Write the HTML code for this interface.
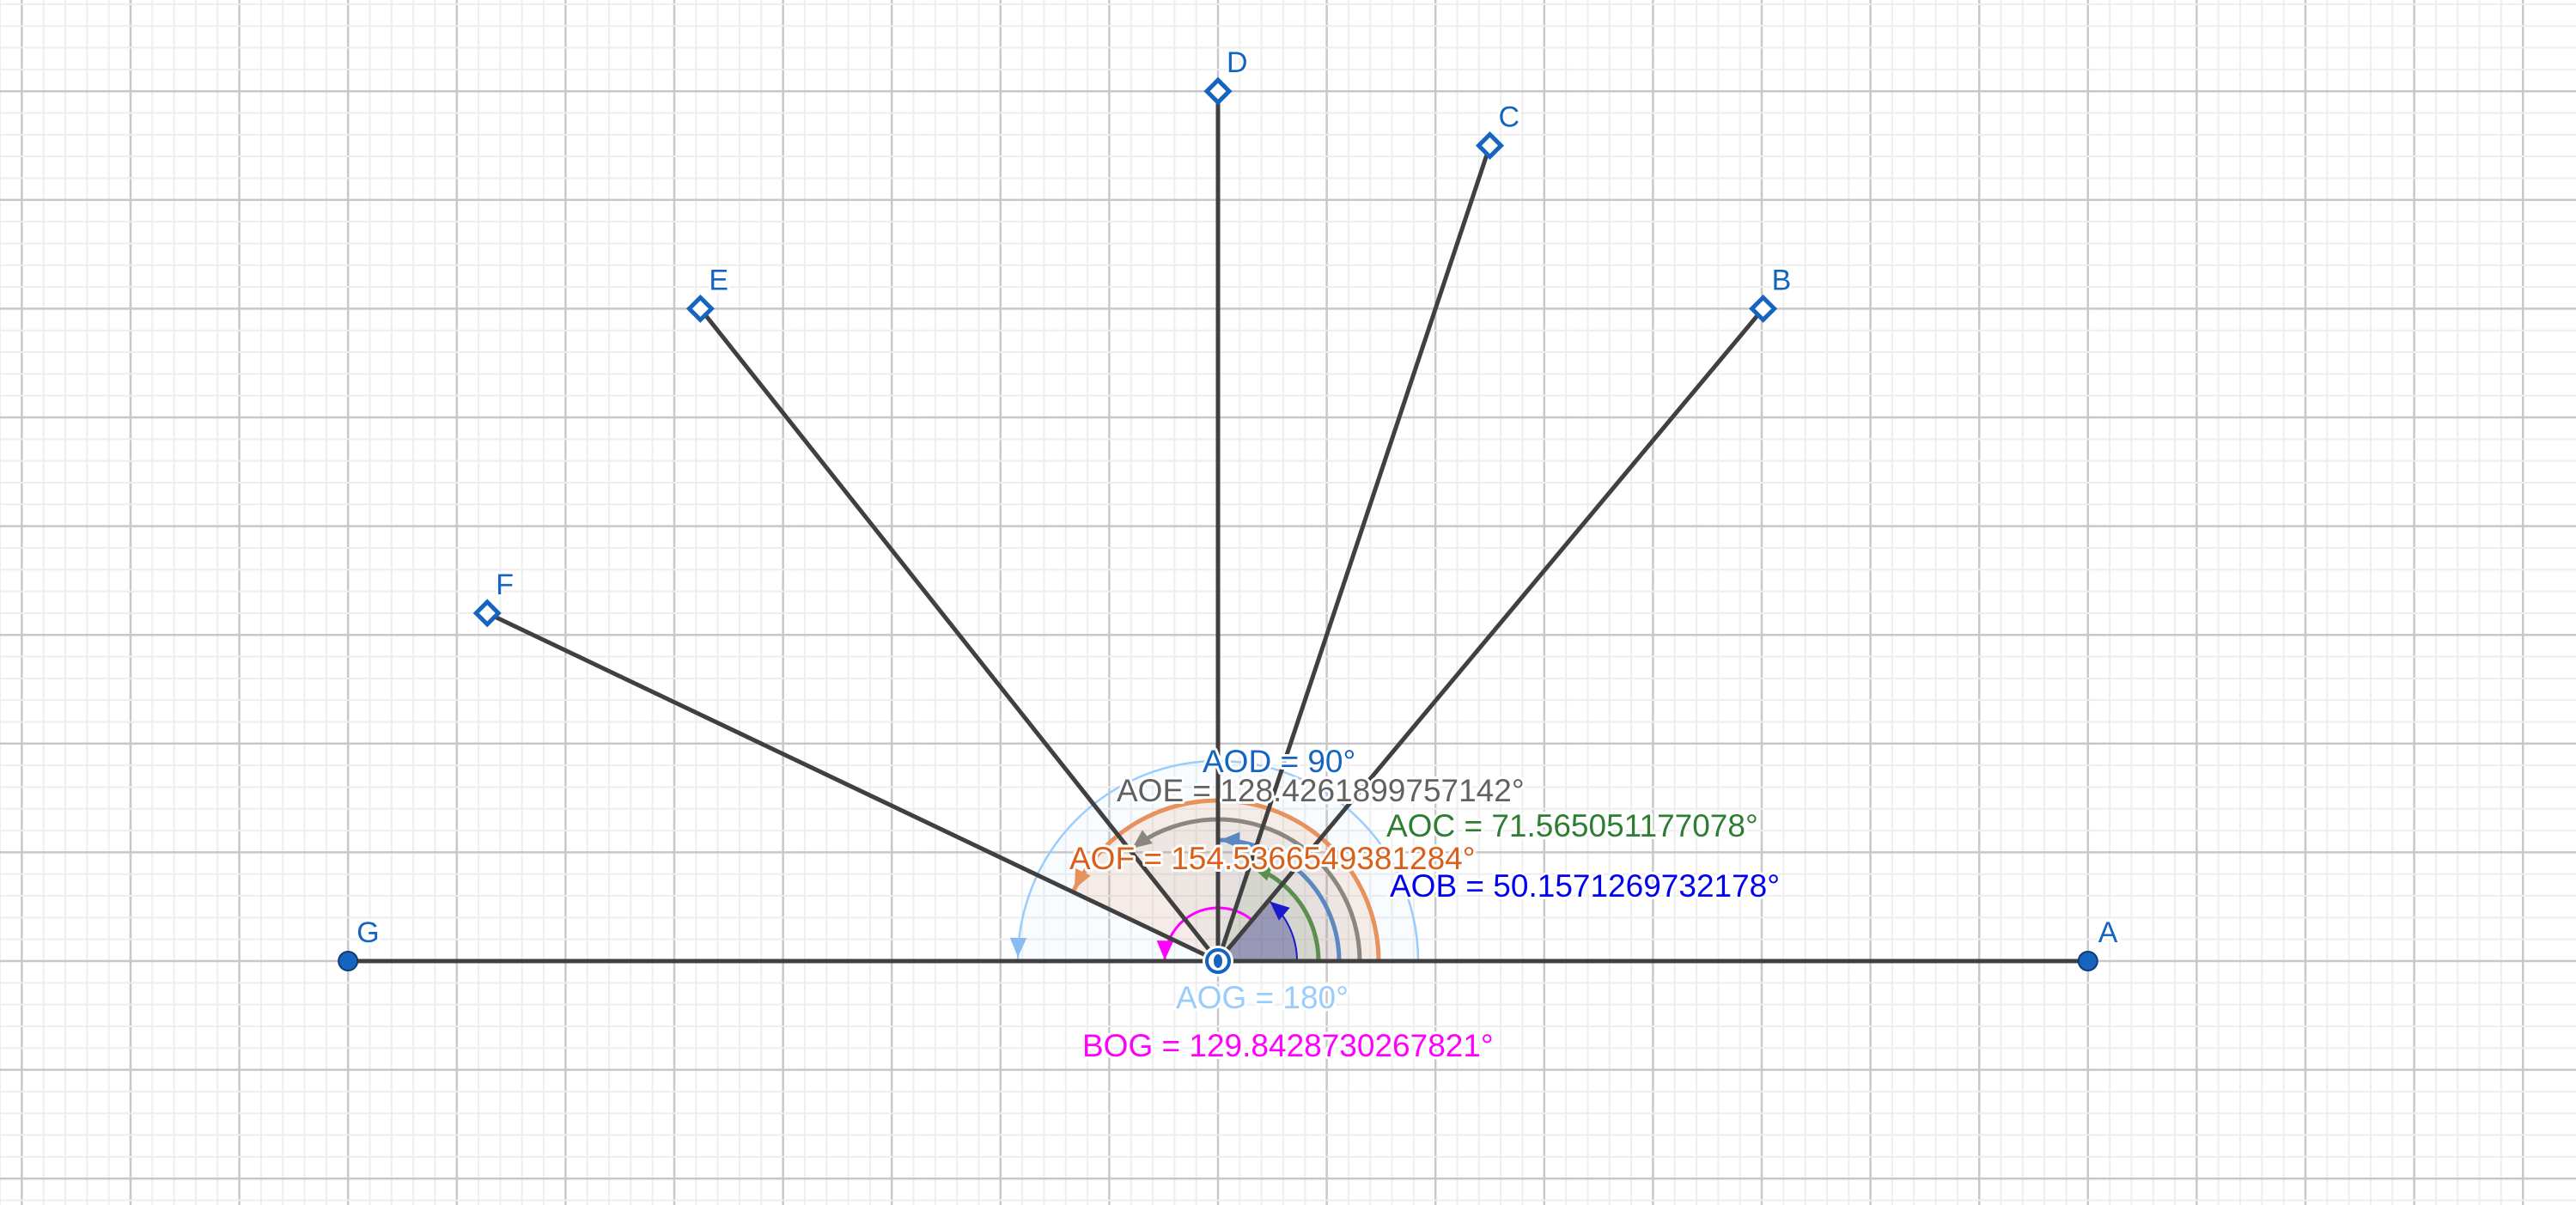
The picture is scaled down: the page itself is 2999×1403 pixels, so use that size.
<!DOCTYPE html>
<html><head><meta charset="utf-8"><style>
html,body{margin:0;padding:0;background:#fff;overflow:hidden}
svg{display:block}
text{font-family:"Liberation Sans",sans-serif;paint-order:stroke;stroke:#fff;stroke-width:6px;stroke-linejoin:round}
</style></head><body>
<svg id="c" width="2999" height="1403" viewBox="0 0 2999 1403" xmlns="http://www.w3.org/2000/svg">
<g id="grid"></g>
<g id="arcs"></g>
<g id="segs"></g>
<g id="pts"></g>
<g id="labels"></g>
</svg>
<script>
// data (graph units, origin O)
const pointNames = ["A","B","C","D","E","F","G"];
const pointX = [8, 5.013, 2.5, 0, -4.76, -6.72, -8];
const pointY = [0, 6, 7.5, 8, 6, 3.2, 0];
const angleNames = ["AOB","AOC","AOD","AOE","AOF","AOG"];
const angleValues = ["50.1571269732178°","71.565051177078°","90°","128.4261899757142°","154.5366549381284°","180°"];
const bogValue = "129.8428730267821°";

const NS="http://www.w3.org/2000/svg";
const U=126.6, OX=1418, OY=1119;
const sx=x=>OX+x*U, sy=y=>OY-y*U;
function mk(tag,attrs,parent){const e=document.createElementNS(NS,tag);for(const k in attrs)e.setAttribute(k,attrs[k]);parent.appendChild(e);return e;}

// grid
const grid=document.getElementById('grid');
for(let i=-60;i<=60;i++){
  const x=OX+i*U/5; if(x<0||x>2999) continue;
  const l=mk('line',{x1:x,y1:0,x2:x,y2:1403,stroke:i%5===0?'#c8c8c8':'#eeeeee','stroke-width':i%5===0?2.5:2},grid);
  
  
}
for(let i=-60;i<=60;i++){
  const y=OY+i*U/5; if(y<0||y>1403) continue;
  const l=mk('line',{x1:0,y1:y,x2:2999,y2:y,stroke:i%5===0?'#c8c8c8':'#eeeeee','stroke-width':i%5===0?2.5:2},grid);
  
  
}

// arcs
const arcs=document.getElementById('arcs');
const angOf=i=>Math.atan2(pointY[i],pointX[i]);
function arcPath(r,a0,a1,sector){
  const x0=OX+r*Math.cos(a0),y0=OY-r*Math.sin(a0),x1=OX+r*Math.cos(a1),y1=OY-r*Math.sin(a1);
  const large=(a1-a0)>Math.PI?1:0;
  let d=`M${x0},${y0} A${r},${r} 0 ${large} 0 ${x1},${y1}`;
  if(sector) d=`M${OX},${OY} L${x0},${y0} A${r},${r} 0 ${large} 0 ${x1},${y1} Z`;
  return d;
}
function arrow(r,a,color,size,g){
  const x=OX+r*Math.cos(a),y=OY-r*Math.sin(a);
  const tx=-Math.sin(a),ty=-Math.cos(a); // ccw tangent in screen
  const nx=Math.cos(a),ny=-Math.sin(a);
  const bx=x-tx*size*1.6,by=y-ty*size*1.6;
  const p=`${x},${y} ${bx+nx*size*0.7},${by+ny*size*0.7} ${bx-nx*size*0.7},${by-ny*size*0.7}`;
  const t=mk('polygon',{points:p,fill:color},g);
  
  
}
const arcR=[92,117,141,165,187,233];
const arcCol=['#1a1acc','#5a8f4e','#5b88c0','#8a8680','#e8915c','#99ccff'];
const arcFill=['rgba(40,40,140,0.35)','rgba(90,140,80,0.12)','rgba(90,130,190,0.05)','rgba(120,120,120,0.05)','rgba(230,140,90,0.14)','rgba(153,204,255,0.06)'];
const arcW=[2,5,5,5,5,2.5];
const endIdx=[1,2,3,4,5,6];
for(let k=angleNames.length-1;k>=0;k--){
  const a1=angOf(endIdx[k]);
  const g=mk('g',{},arcs);
  
  
  mk('path',{d:arcPath(arcR[k],0,a1,true),fill:arcFill[k],stroke:'none'},g);
  mk('path',{d:arcPath(arcR[k],0,a1,false),fill:'none',stroke:arcCol[k],'stroke-width':arcW[k]},g);
  arrow(arcR[k],a1-0.02,arcCol[k]==='#99ccff'?'#88bbf0':arcCol[k],14,g);
}
// BOG
{
  const g=mk('g',{},arcs);
  
  
  const a0=angOf(1);
  mk('path',{d:arcPath(62,a0,Math.PI,false),fill:'none',stroke:'#ff00ff','stroke-width':3},g);
  arrow(62,Math.PI-0.02,'#ff00ff',14,g);
}

// segments
const segs=document.getElementById('segs');
for(let i=0;i<pointNames.length;i++){
  const l=mk('line',{x1:OX,y1:OY,x2:sx(pointX[i]),y2:sy(pointY[i]),stroke:'#404040','stroke-width':5,'stroke-linecap':'round'},segs);
  
  
}

// points
const pts=document.getElementById('pts');
const labOff={A:[12,-22],B:[10,-22],C:[10,-22],D:[10,-22],E:[10,-22],F:[10,-22],G:[10,-22]};
for(let i=0;i<pointNames.length;i++){
  const x=sx(pointX[i]),y=sy(pointY[i]),n=pointNames[i];
  let p;
  if(n==='A'||n==='G'){
    p=mk('circle',{cx:x,cy:y,r:11,fill:'#1565c0',stroke:'#0d3b73','stroke-width':2},pts);
  } else {
    p=mk('polygon',{points:`${x},${y-13} ${x+13},${y} ${x},${y+13} ${x-13},${y}`,fill:'#fff',stroke:'#1565c0','stroke-width':5},pts);
  }
  
  
  const t=mk('text',{x:x+labOff[n][0],y:y+labOff[n][1],'font-size':34,fill:'#1565c0'},pts);
  t.textContent=n;
  
  
}
// O point
{
  const g=mk('g',{},pts);
  
  
  mk('circle',{cx:OX,cy:OY,r:18,fill:'#fff'},g);
  mk('circle',{cx:OX,cy:OY,r:13,fill:'#fff',stroke:'#1565c0','stroke-width':4},g);
  mk('ellipse',{cx:OX,cy:OY,rx:5,ry:8,fill:'#1565c0'},g);
}

// angle labels
const labels=document.getElementById('labels');
const labX=[1618,1614,1400,1300,1245,1369];
const labY=[1044,974,899,933,1012,1174];
const labC=['#0000ee','#2e7d32','#1565c0','#616161','#d9601a','#99ccff'];
for(let k=0;k<angleNames.length;k++){
  const t=mk('text',{x:labX[k],y:labY[k],'font-size':37,fill:labC[k]},labels);
  t.textContent=angleNames[k]+' = '+angleValues[k];
  
  
}
{
  const t=mk('text',{x:1260,y:1230,'font-size':37,fill:'#ff00ff'},labels);
  t.textContent='BOG = '+bogValue;
  
  
}
</script>
</body></html>
